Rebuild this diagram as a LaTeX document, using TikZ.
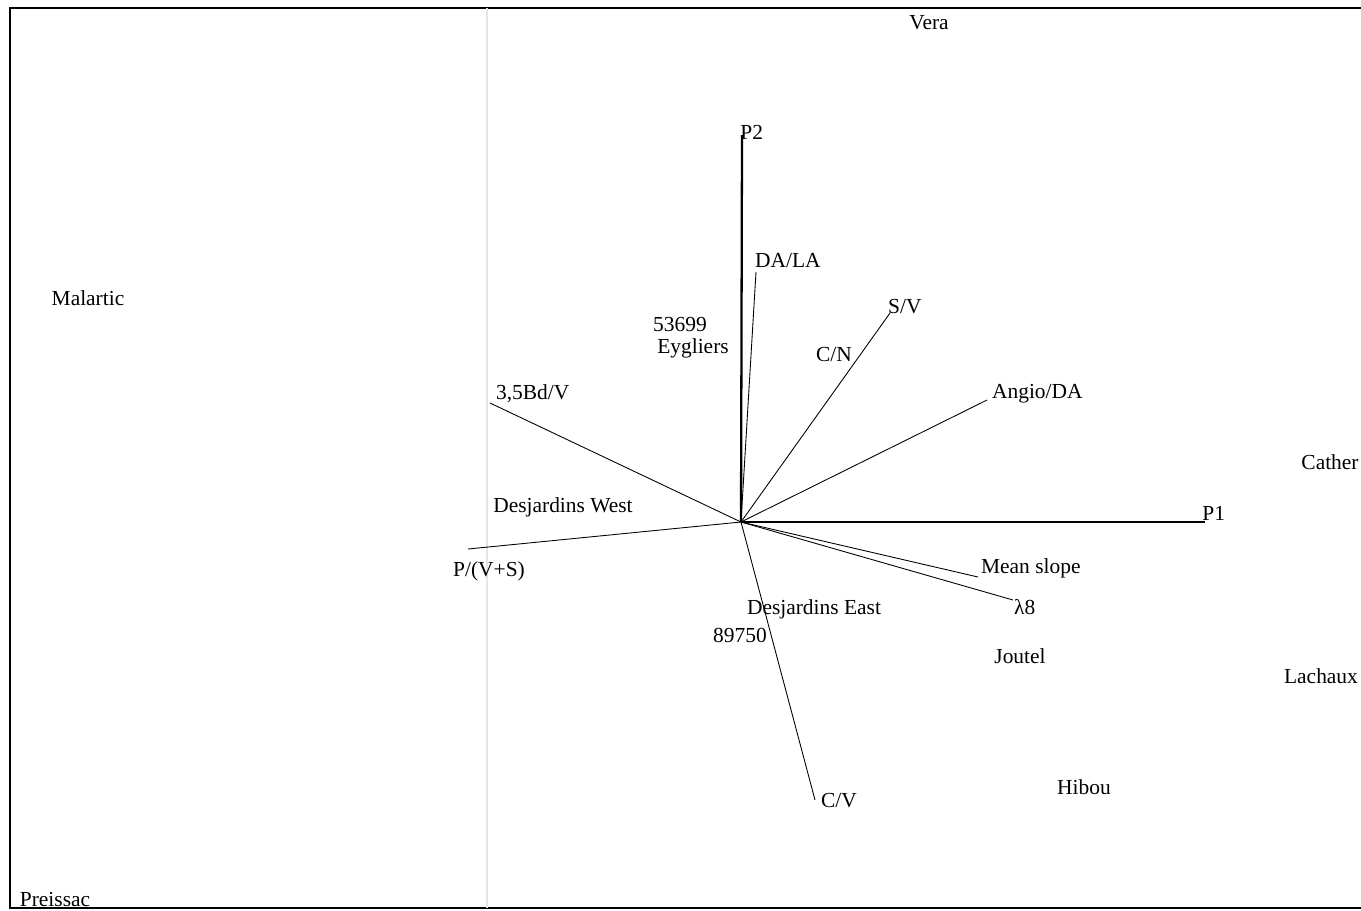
\documentclass[tikz,border=0pt]{standalone}
\usepackage{fontspec}
\setmainfont{Liberation Serif}
\usepackage{tikz}
\usetikzlibrary{positioning}
\tikzset{
    axis/.style={line width=1.3pt},
    vect/.style={line width=0.5pt},
    lbl/.style={inner sep=1pt, font=\fontsize{12.2}{14}\selectfont},
    site/.style={inner sep=1pt, font=\fontsize{12.2}{14}\selectfont}
}

\begin{document}
\begin{tikzpicture}[x=0.02cm,y=-0.02cm]
	\useasboundingbox (0,0) rectangle (1361,910);
	% frame
	\draw[line width=0.9pt] (1361,8) -- (10,8) -- (10,908) -- (1361,908);
	\draw[gray!20, line width=1pt] (487,8) -- (487,908);
	% axes
	\coordinate (O) at (741,522);
	\coordinate (p1) at (1205,522);
	\coordinate (p2) at (742,135);
	\draw[axis] (O) -- (p1);
	\draw[axis] (O) -- (p2);
	\node[lbl, anchor=south west, inner sep=0pt] (P1) at (1202,521) {P1};
	\node[lbl, anchor=south west, inner sep=0pt] (P2) at (740,140) {P2};
	% variables
	\coordinate (dala) at (756,272);
	\coordinate (sv) at (890,313);
	\coordinate (angio) at (987,400);
	\coordinate (bd) at (490,403);
	\coordinate (pvs) at (468,549);
	\coordinate (slope) at (978,577);
	\coordinate (lam) at (1013,600);
	\coordinate (cv) at (815,800);
	\draw[vect] (O) -- (dala);
	\draw[vect] (O) -- (sv);
	\draw[vect] (O) -- (angio);
	\draw[vect] (O) -- (bd);
	\draw[vect] (O) -- (pvs);
	\draw[vect] (O) -- (slope);
	\draw[vect] (O) -- (lam);
	\draw[vect] (O) -- (cv);
	\node[lbl, anchor=west] (DALA) at (753,261) {DA/LA};
	\node[lbl, anchor=west] (SV) at (886,307) {S/V};
	\node[lbl] (CN) at (834,354) {C/N};
	\node[lbl, anchor=west] (ANGIO) at (990,394) {Angio/DA};
	\node[lbl, anchor=west] (BD) at (494,394) {3,5Bd/V};
	\node[lbl] (PVS) at (489,571) {P/(V+S)};
	\node[lbl, anchor=west] (SLOPE) at (979,568) {Mean slope};
	\node[lbl, anchor=west] (LAM) at (1012,607) {λ8};
	\node[lbl, anchor=west] (CV) at (819,801) {C/V};
	% sites
	\node[site] (vera) at (929,23) {Vera};
	\node[site] (malartic) at (88,298) {Malartic};
	\node[site] (s53699) at (680,324) {53699};
	\node[site] (eygliers) at (693,348) {Eygliers};
	\node[site] (djwest) at (563,507) {Desjardins West};
	\node[site] (djeast) at (814,609) {Desjardins East};
	\node[site] (s89750) at (740,635) {89750};
	\node[site] (joutel) at (1020,656) {Joutel};
	\node[site] (hibou) at (1084,787) {Hibou};
	\node[site] (cather) at (1330,462) {Cather};
	\node[site] (lachaux) at (1321,676) {Lachaux};
	\node[site] (preissac) at (55,899) {Preissac};
\end{tikzpicture}
\end{document}
